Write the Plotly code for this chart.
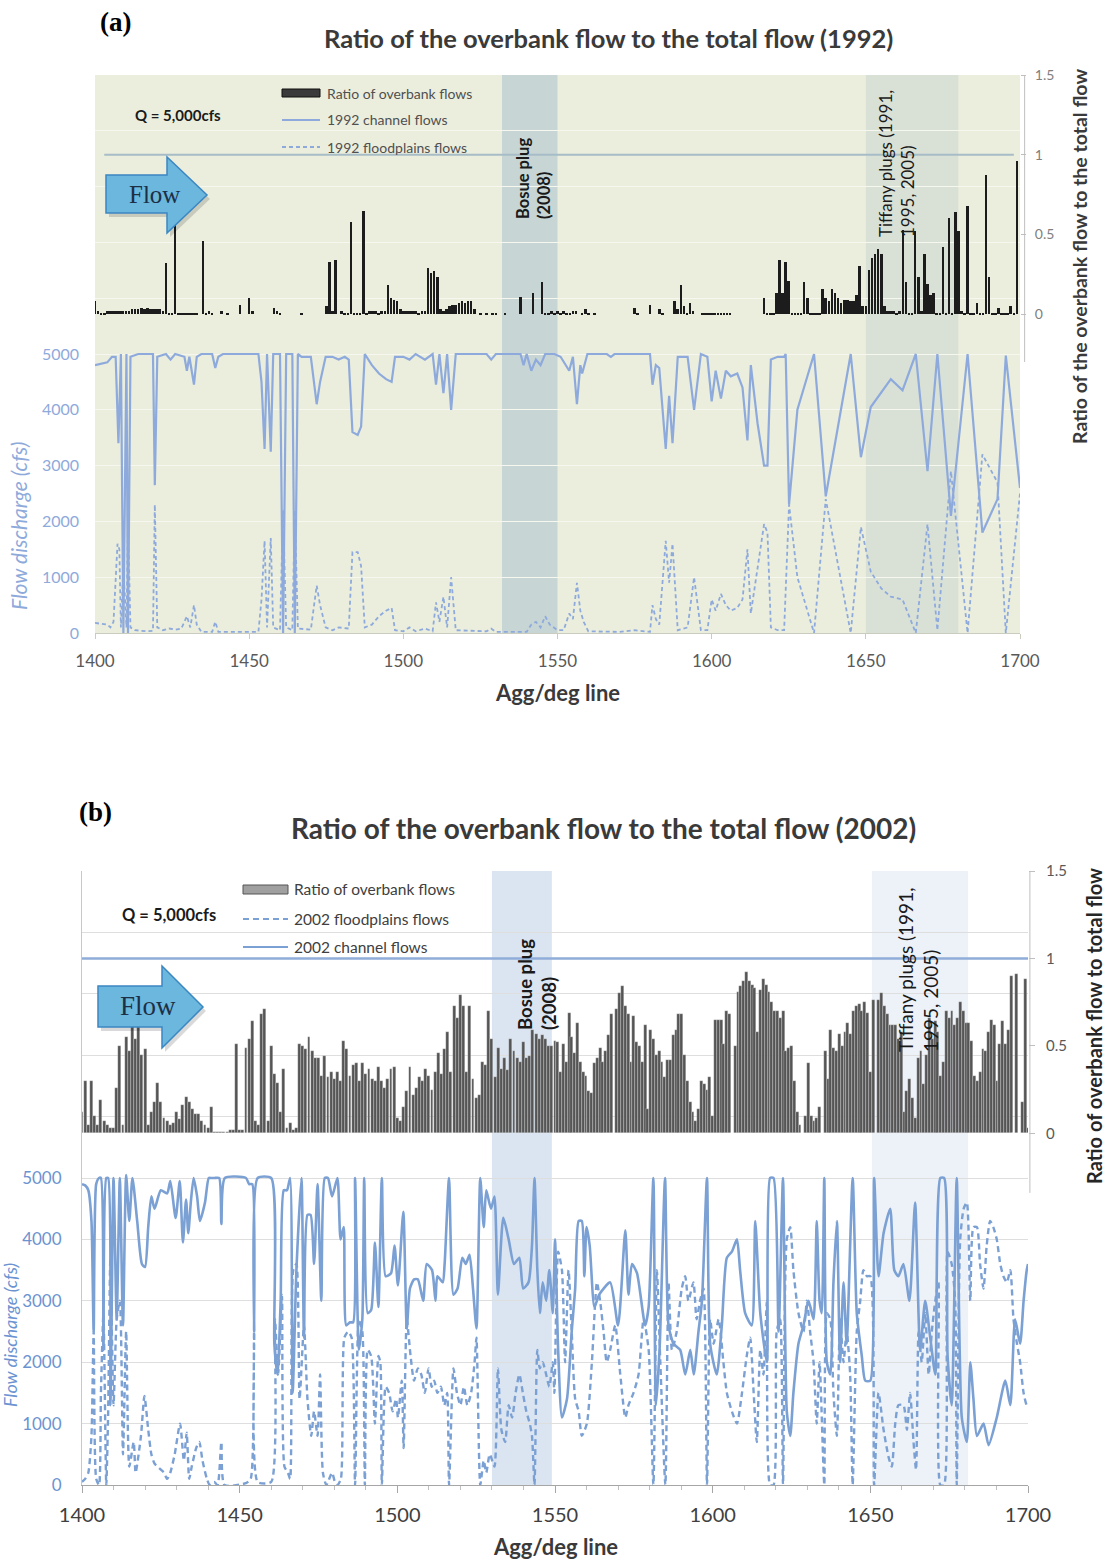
import numpy as np
import plotly.graph_objects as go

W, H = 1109, 1562

# ---------------- 1992 data (panel a) ----------------
STATIONS_1992 = list(range(1400, 1701))
RATIO_1992 = [
    0.08, 0.02, 0.01, 0.01, 0.02, 0.02, 0.02, 0.02, 0.02, 0.02,
    0.02, 0.02, 0.03, 0.03, 0.03, 0.04, 0.03, 0.04, 0.03, 0.03,
    0.03, 0.03, 0.02, 0.32, 0.01, 0.01, 0.66, 0.01, 0.01, 0.01,
    0.01, 0.01, 0.01, 0.01, 0.00, 0.46, 0.01, 0.02, 0.01, 0.00,
    0.00, 0.02, 0.00, 0.01, 0.00, 0.00, 0.00, 0.06, 0.00, 0.00,
    0.10, 0.02, 0.00, 0.00, 0.00, 0.00, 0.00, 0.00, 0.04, 0.02,
    0.01, 0.00, 0.00, 0.00, 0.00, 0.00, 0.00, 0.01, 0.00, 0.00,
    0.00, 0.00, 0.00, 0.00, 0.00, 0.05, 0.33, 0.02, 0.34, 0.00,
    0.02, 0.01, 0.01, 0.58, 0.01, 0.01, 0.01, 0.65, 0.01, 0.02,
    0.02, 0.02, 0.01, 0.02, 0.02, 0.18, 0.10, 0.09, 0.08, 0.03,
    0.02, 0.02, 0.02, 0.02, 0.02, 0.01, 0.02, 0.02, 0.29, 0.26,
    0.27, 0.23, 0.03, 0.02, 0.03, 0.05, 0.06, 0.06, 0.07, 0.08,
    0.07, 0.08, 0.08, 0.03, 0.00, 0.01, 0.00, 0.01, 0.00, 0.01,
    0.01, 0.00, 0.00, 0.01, 0.00, 0.00, 0.00, 0.00, 0.11, 0.00,
    0.00, 0.00, 0.13, 0.00, 0.00, 0.20, 0.01, 0.01, 0.02, 0.01,
    0.02, 0.01, 0.02, 0.01, 0.01, 0.02, 0.02, 0.00, 0.01, 0.03,
    0.01, 0.00, 0.01, 0.00, 0.00, 0.00, 0.00, 0.00, 0.00, 0.00,
    0.00, 0.00, 0.00, 0.00, 0.00, 0.04, 0.01, 0.00, 0.00, 0.00,
    0.06, 0.00, 0.00, 0.03, 0.01, 0.00, 0.00, 0.00, 0.08, 0.03,
    0.18, 0.05, 0.01, 0.07, 0.02, 0.00, 0.00, 0.01, 0.01, 0.01,
    0.01, 0.01, 0.01, 0.01, 0.01, 0.01, 0.01, 0.00, 0.00, 0.00,
    0.00, 0.00, 0.00, 0.00, 0.00, 0.00, 0.00, 0.10, 0.01, 0.01,
    0.01, 0.13, 0.34, 0.13, 0.33, 0.21, 0.01, 0.01, 0.01, 0.01,
    0.20, 0.10, 0.01, 0.01, 0.01, 0.01, 0.16, 0.10, 0.08, 0.16,
    0.13, 0.10, 0.07, 0.09, 0.09, 0.08, 0.08, 0.12, 0.30, 0.05,
    0.05, 0.28, 0.35, 0.375, 0.41, 0.375, 0.05, 0.02, 0.02, 0.02,
    0.01, 0.02, 0.53, 0.20, 0.01, 0.01, 0.52, 0.23, 0.02, 0.375,
    0.19, 0.12, 0.135, 0.01, 0.01, 0.42, 0.01, 0.60, 0.01, 0.64,
    0.52, 0.02, 0.01, 0.68, 0.01, 0.01, 0.07, 0.01, 0.01, 0.875,
    0.23, 0.01, 0.01, 0.04, 0.01, 0.01, 0.01, 0.05, 0.01, 0.96,
    0.00,
]

# (station, discharge in cfs)
CHANNEL_1992 = [
    (1400, 4800), (1402, 4820), (1404, 4850), (1405.5, 4950), (1406.7, 4950), (1407.6, 3400),
    (1408.4, 5000), (1409.2, 0), (1410.2, 5000), (1410.7, 0), (1411.5, 4950), (1414, 5000),
    (1418.8, 5000), (1419.4, 2650), (1420.2, 4950), (1423, 5000), (1424.5, 4900), (1426, 5000),
    (1429, 4950), (1429.8, 4700), (1430.6, 4950), (1431.5, 4650), (1432.1, 4450), (1433, 4950),
    (1434.5, 5000), (1438, 5000), (1439, 4750), (1440, 4950), (1441.5, 5000), (1453, 5000),
    (1454, 4500), (1455, 3300), (1455.8, 5000), (1457, 3250), (1457.8, 5000), (1460, 5000),
    (1461, 0), (1462, 5000), (1464, 5000), (1464.8, 0), (1465.8, 5000), (1467, 4950),
    (1470, 4950), (1471.9, 4100), (1473, 4500), (1474.8, 4950), (1477, 4950), (1479, 4900),
    (1481, 4950), (1482.3, 4900), (1483.5, 3600), (1485.2, 3550), (1486.3, 3700), (1487.5, 5000),
    (1489.8, 4800), (1492.1, 4650), (1494.4, 4550), (1496.2, 4500), (1497.3, 4950), (1500, 4950),
    (1502, 4900), (1504, 5000), (1507, 4900), (1509.5, 5000), (1510.6, 4450), (1511.7, 5000),
    (1513, 4300), (1514.2, 5000), (1515.5, 4000), (1517, 5000), (1527, 5000), (1528.5, 4900),
    (1530, 5000), (1538, 5000), (1539, 4800), (1540, 5000), (1541.5, 4700), (1543, 4900),
    (1544.5, 4800), (1546, 5000), (1549, 5000), (1551, 4950), (1553.8, 4700), (1555, 4950),
    (1556.3, 4100), (1557.4, 4800), (1558, 4650), (1559.7, 5000), (1566, 5000), (1567.3, 4950),
    (1568.5, 5000), (1580, 5000), (1580.8, 4450), (1581.9, 4800), (1583, 4750), (1585.1, 3300),
    (1586.2, 4250), (1587.3, 3400), (1589, 4950), (1592.2, 4950), (1594.3, 4000), (1596.5, 5000),
    (1598.6, 4950), (1600, 4150), (1601.3, 4700), (1603, 4200), (1604.6, 4700), (1606.2, 4600),
    (1608.3, 4650), (1610, 4400), (1611.6, 3450), (1612.7, 4800), (1614.9, 3750), (1617, 3000),
    (1618.1, 3000), (1619.2, 4900), (1621.4, 4950), (1623.5, 4950), (1624, 5000), (1625.1, 2300),
    (1627.8, 4000), (1633.2, 5000), (1637, 2450), (1645.1, 5000), (1648.4, 3150), (1651.6, 4050),
    (1658.1, 4550), (1661.9, 4350), (1666.2, 5000), (1670, 2900), (1673.2, 5000), (1677.6, 2100),
    (1683, 5000), (1687.8, 1800), (1692.7, 2400), (1695.4, 4970), (1700, 2600),
]

FLOOD_1992 = [
    (1400, 180), (1402, 170), (1404, 150), (1405, 100), (1406, 200), (1407.3, 1600),
    (1407.9, 1500), (1408.4, 100), (1409.2, 1200), (1410.2, 100), (1410.7, 2000), (1411.5, 100),
    (1413, 50), (1417, 30), (1418.8, 40), (1419.4, 2300), (1420.2, 100), (1422, 50),
    (1424, 80), (1426, 60), (1428, 80), (1429.8, 300), (1430.9, 100), (1432.1, 500),
    (1433, 150), (1434.5, 20), (1438, 20), (1439, 200), (1440, 20), (1453, 20),
    (1454, 600), (1455, 1650), (1455.8, 100), (1457, 1700), (1457.8, 100), (1460, 50),
    (1461, 2200), (1462, 100), (1464, 50), (1464.8, 2200), (1465.8, 80), (1470, 60),
    (1471.9, 850), (1473, 500), (1474.8, 100), (1477, 50), (1479, 100), (1482.3, 80),
    (1483.5, 1450), (1485.2, 1450), (1486.3, 1200), (1487.5, 100), (1489.8, 150), (1492.1, 300),
    (1494.4, 400), (1496.2, 450), (1497.3, 50), (1500, 30), (1502, 100), (1504, 30),
    (1507, 80), (1509.5, 30), (1510.6, 550), (1511.7, 200), (1513, 650), (1514.2, 100),
    (1515.5, 1000), (1517, 50), (1527, 30), (1528.5, 80), (1530, 20), (1540, 20),
    (1541.5, 150), (1543, 200), (1544.5, 100), (1546, 300), (1547.5, 150), (1550, 50),
    (1552, 50), (1553.8, 350), (1555, 250), (1556.3, 900), (1557.4, 400), (1558.5, 200),
    (1560, 30), (1570, 20), (1575, 50), (1580, 20), (1580.8, 500), (1581.9, 250),
    (1583, 150), (1585.1, 1650), (1586.2, 900), (1587.3, 1600), (1589, 50), (1592.2, 100),
    (1594.3, 1000), (1596.5, 50), (1598.6, 50), (1600, 600), (1601.3, 400), (1603, 700),
    (1604.6, 500), (1606.2, 400), (1608.3, 450), (1610, 600), (1611.6, 1500), (1612.7, 350),
    (1614.9, 1200), (1617, 1950), (1618.1, 1800), (1619.2, 100), (1621.4, 50), (1623.5, 50),
    (1625.1, 2300), (1627.8, 1000), (1633.2, 0), (1637, 2400), (1645.1, 0), (1648.4, 1900),
    (1651.6, 1100), (1655, 800), (1658.1, 650), (1661.9, 600), (1666.2, 0), (1670, 1950),
    (1673.2, 50), (1677.6, 2900), (1683, 0), (1687.8, 3200), (1692.7, 2700), (1695.4, 0),
    (1700, 2500),
]

# ---------------- 2002 data (panel b) ----------------
# overbank ratio, stations 1400-1549 (one bar per station)
RATIO_2002_UP = [
    0.12, 0.30, 0.05, 0.30, 0.10, 0.05, 0.19, 0.07, 0.05, 0.03,
    0.03, 0.26, 0.50, 0.05, 0.55, 0.47, 0.69, 0.54, 0.61, 0.45,
    0.48, 0.05, 0.12, 0.18, 0.29, 0.18, 0.09, 0.07, 0.05, 0.06,
    0.12, 0.08, 0.16, 0.21, 0.18, 0.14, 0.11, 0.11, 0.07, 0.05,
    0.03, 0.15, 0.01, 0.01, 0.01, 0.01, 0.01, 0.02, 0.02, 0.51,
    0.02, 0.02, 0.49, 0.54, 0.64, 0.07, 0.05, 0.68, 0.71, 0.07,
    0.50, 0.34, 0.29, 0.12, 0.37, 0.03, 0.06, 0.02, 0.03, 0.51,
    0.50, 0.48, 0.55, 0.47, 0.43, 0.43, 0.33, 0.44, 0.32, 0.35,
    0.31, 0.35, 0.30, 0.53, 0.48, 0.33, 0.39, 0.40, 0.30, 0.40,
    0.34, 0.37, 0.31, 0.30, 0.38, 0.30, 0.26, 0.31, 0.37, 0.38,
    0.09, 0.07, 0.15, 0.24, 0.38, 0.22, 0.26, 0.32, 0.30, 0.37,
    0.33, 0.25, 0.35, 0.46, 0.34, 0.48, 0.58, 0.35, 0.73, 0.66,
    0.79, 0.73, 0.35, 0.73, 0.31, 0.20, 0.22, 0.41, 0.39, 0.70,
    0.54, 0.32, 0.49, 0.37, 0.43, 0.36, 0.54, 0.47, 0.43, 0.41,
    0.52, 0.43, 0.44, 0.59, 0.57, 0.54, 0.56, 0.54, 0.50, 0.50,
]
# overbank ratio, stations 1550-1700 (denser bars)
RATIO_2002_DOWN = [
    0.53, 0.52, 0.35, 0.51, 0.41, 0.69, 0.55, 0.46, 0.63, 0.41,
    0.35, 0.33, 0.24, 0.23, 0.40, 0.43, 0.49, 0.41, 0.47, 0.56,
    0.68, 0.00, 0.71, 0.80, 0.84, 0.73, 0.68, 0.41, 0.67, 0.52,
    0.50, 0.41, 0.62, 0.14, 0.59, 0.54, 0.45, 0.47, 0.41, 0.32,
    0.42, 0.42, 0.56, 0.59, 0.68, 0.68, 0.45, 0.30, 0.18, 0.12,
    0.07, 0.14, 0.30, 0.28, 0.25, 0.32, 0.10, 0.65, 0.65, 0.65,
    0.51, 0.70, 0.68, 0.00, 0.50, 0.81, 0.84, 0.87, 0.92, 0.87,
    0.85, 0.83, 0.58, 0.82, 0.88, 0.85, 0.81, 0.75, 0.70, 0.70,
    0.66, 0.70, 0.47, 0.49, 0.50, 0.30, 0.12, 0.05, 0.00, 0.10,
    0.40, 0.10, 0.07, 0.09, 0.15, 0.00, 0.47, 0.31, 0.59, 0.49,
    0.47, 0.57, 0.50, 0.58, 0.63, 0.57, 0.70, 0.73, 0.74, 0.70,
    0.75, 0.69, 0.35, 0.76, 0.00, 0.76, 0.80, 0.73, 0.68, 0.62,
    0.62, 0.62, 0.54, 0.58, 0.12, 0.24, 0.31, 0.20, 0.09, 0.43,
    0.47, 0.28, 0.45, 0.66, 0.54, 0.64, 0.58, 0.33, 0.41, 0.70,
    0.66, 0.70, 0.62, 0.66, 0.75, 0.70, 0.63, 0.63, 0.53, 0.33,
    0.30, 0.35, 0.48, 0.47, 0.58, 0.65, 0.62, 0.30, 0.51, 0.64,
    0.51, 0.59, 0.90, 0.00, 0.91, 0.00, 0.18, 0.88, 0.03,
]

CHANNEL_2002 = [
    (1400, 4900), (1401, 4880), (1402, 4800), (1403, 4300), (1403.7, 2500), (1404.5, 4900),
    (1405.4, 5000), (1406, 5000), (1406.8, 2200), (1407.7, 5000), (1408.3, 5000), (1409, 1300),
    (1410, 5000), (1411, 2700), (1412, 5000), (1413, 2600), (1414, 5050), (1415, 4300),
    (1416, 5000), (1417.5, 4300), (1419, 3600), (1420, 3550), (1421, 4200), (1422, 4700),
    (1423, 4500), (1425, 4800), (1427, 4750), (1428, 4950), (1429.7, 4350), (1431, 4950),
    (1432, 3950), (1433, 4650), (1433.7, 4100), (1434.5, 4600), (1435.4, 5000), (1436.5, 4700),
    (1437.4, 4300), (1439, 4600), (1440.2, 5000), (1441, 5000), (1442, 5000), (1443.5, 5000),
    (1444.2, 4250), (1445.3, 5000), (1452, 5000), (1453, 4900), (1454, 4900), (1454.6, 2500),
    (1455.7, 5000), (1460, 5000), (1461, 2300), (1462, 1800), (1463, 3000), (1464, 4800),
    (1465, 4800), (1466, 5000), (1466.8, 1500), (1468, 3500), (1469.6, 5000), (1470.4, 2400),
    (1471.5, 4400), (1472.5, 4400), (1473.6, 3600), (1474.7, 4900), (1475.9, 3000), (1477, 5000),
    (1478, 5000), (1479.3, 4700), (1481, 5000), (1482, 4000), (1483, 4200), (1483.8, 2600),
    (1485, 2650), (1486, 2650), (1486.6, 5000), (1487.8, 2200), (1488.9, 2700), (1489.5, 5000),
    (1490.6, 2800), (1491.7, 2850), (1492.9, 3950), (1494, 2900), (1495.1, 5000), (1496.3, 3400),
    (1498, 3450), (1499.1, 3900), (1500.2, 3250), (1501.9, 4450), (1503, 2550), (1504, 3200),
    (1505.3, 3350), (1506.5, 3350), (1508.2, 3000), (1509.3, 3600), (1511, 3500), (1512.1, 3000),
    (1512.7, 3400), (1514.4, 3300), (1515, 3600), (1516.4, 5000), (1517.8, 3100), (1519.1, 3200),
    (1520.6, 3700), (1521.7, 3600), (1522.9, 3750), (1524, 3200), (1525.1, 2550), (1526.3, 5000),
    (1527.4, 4200), (1528.2, 4800), (1529.7, 4500), (1530.8, 4700), (1531.9, 3100), (1533.6, 4350),
    (1535.3, 4000), (1537, 3600), (1538.7, 3700), (1539.9, 3200), (1541.6, 3300), (1542.7, 3900),
    (1543.5, 5000), (1544.4, 3500), (1545.2, 2800), (1546.1, 3300), (1547.2, 3000), (1548.2, 3500),
    (1549.3, 2800), (1550, 4000), (1551, 2200), (1552.2, 1100), (1553.8, 1400), (1555.3, 2500),
    (1556.4, 3200), (1557.5, 4300), (1558.5, 4300), (1559.3, 3400), (1560, 4200), (1561, 3900),
    (1562.5, 2900), (1564, 3100), (1567.5, 3300), (1570, 2600), (1572.3, 4150), (1573.3, 3100),
    (1574.4, 3600), (1576, 3450), (1578.6, 2600), (1579.7, 2900), (1581.2, 5000), (1582, 1300),
    (1583.2, 2250), (1584.9, 5000), (1586, 2600), (1587.6, 2300), (1589.7, 2200), (1591.3, 1800),
    (1592.9, 2200), (1594, 1800), (1595.5, 2500), (1596.6, 3000), (1598.2, 5000), (1599.2, 2300),
    (1601.3, 1800), (1602.9, 2600), (1604.5, 3700), (1606.1, 3800), (1607.7, 4000), (1608.7, 3500),
    (1610.3, 2800), (1612.4, 2600), (1613.5, 4300), (1615.1, 2800), (1617.2, 2000), (1618.2, 5000),
    (1619.3, 5000), (1620.9, 2500), (1622.3, 5000), (1623.5, 1200), (1624.6, 800), (1625.6, 1500),
    (1627.2, 2300), (1628.8, 2600), (1630.4, 3000), (1632, 2700), (1633, 4300), (1633.9, 3000),
    (1634.6, 2800), (1635.4, 5000), (1636.2, 2000), (1637.3, 1800), (1638.3, 3300), (1639.4, 4300),
    (1640.4, 2000), (1641.5, 3300), (1642.5, 2300), (1644.4, 5000), (1645.7, 2800), (1647.3, 2100),
    (1648.4, 1700), (1650, 1700), (1651.2, 5000), (1652.6, 3400), (1654.2, 4100), (1656.3, 4500),
    (1657.6, 3500), (1658.9, 3400), (1660.5, 3600), (1662.4, 3000), (1664.2, 4600), (1665.8, 2200),
    (1667.4, 3000), (1669, 2400), (1670.6, 1800), (1672.2, 5000), (1673.4, 5000), (1674.5, 2100),
    (1675.8, 1300), (1677.4, 5000), (1679, 1100), (1680.6, 700), (1681.7, 2000), (1682.7, 1400),
    (1683.8, 800), (1685.9, 1000), (1687.5, 650), (1690.1, 1100), (1692.8, 1700), (1694.4, 1300),
    (1695.9, 2700), (1697.5, 2300), (1698.6, 3000), (1699.6, 3500), (1700, 3600),
]

FLOOD_2002 = [
    (1400, 50), (1401, 100), (1402, 200), (1403, 800), (1403.7, 2500), (1404.5, 100),
    (1405.4, 0), (1406, 1500), (1406.8, 2800), (1407.7, 0), (1408.3, 1200), (1409, 3700),
    (1410, 1300), (1411, 2700), (1412, 3000), (1413, 500), (1414, 2500), (1415, 300),
    (1416.4, 700), (1417, 200), (1418.7, 800), (1419.8, 1450), (1421, 900), (1422, 500),
    (1423, 350), (1425, 250), (1426, 200), (1427, 100), (1428, 200), (1429.4, 500),
    (1431.1, 1000), (1432.3, 400), (1433.2, 850), (1434, 100), (1434.8, 300), (1436.2, 600),
    (1437.2, 700), (1438.2, 400), (1439.6, 100), (1440.5, 0), (1441.9, 50), (1443, 0),
    (1444.2, 700), (1445.2, 0), (1452, 30), (1453.5, 100), (1454.6, 2500), (1455.7, 50),
    (1460, 50), (1461.2, 2700), (1462.2, 1800), (1463.4, 3100), (1464.2, 300), (1465.3, 200),
    (1466, 100), (1467, 3500), (1468, 3600), (1469, 1400), (1470.4, 2600), (1471.5, 1400),
    (1472.7, 800), (1473.6, 1200), (1474.7, 800), (1475.5, 1800), (1476.4, 200), (1477.5, 0),
    (1479.3, 200), (1480.2, 50), (1481, 0), (1482.1, 100), (1483.2, 2400), (1484.4, 2500),
    (1485.5, 2400), (1486.6, 0), (1487.8, 2700), (1488.9, 2500), (1489.7, 0), (1490.6, 2200),
    (1491.7, 2100), (1492.9, 1000), (1494, 2100), (1494.6, 2000), (1495.1, 0), (1496.3, 1600),
    (1497.4, 1500), (1498.5, 1200), (1499.6, 1400), (1500.2, 1100), (1501.4, 1700), (1502, 600),
    (1503, 2700), (1504.2, 2100), (1505.3, 1700), (1506.5, 1900), (1507.6, 1800), (1508.7, 1500),
    (1509.9, 1900), (1510.9, 1600), (1511.7, 1700), (1512.7, 1500), (1513.8, 1600), (1514.9, 1300),
    (1515.8, 1500), (1516.4, 0), (1517.8, 1900), (1518.9, 1500), (1520, 1300), (1521.1, 1600),
    (1522.2, 1300), (1523.4, 1500), (1524.5, 2000), (1525.1, 2400), (1526.3, 0), (1527.4, 400),
    (1528.2, 200), (1529.3, 500), (1530.8, 300), (1531.9, 1900), (1533, 900), (1534.2, 700),
    (1535.3, 1300), (1536.4, 1100), (1537.5, 1500), (1538.7, 1800), (1539.8, 1500), (1540.9, 1200),
    (1542, 1000), (1542.7, 800), (1543.5, 0), (1544.4, 2200), (1545.2, 1900), (1546.1, 2000),
    (1547.2, 1800), (1548.2, 1600), (1549.3, 2000), (1549.8, 1500), (1551, 3800), (1552.2, 3500),
    (1553.2, 2000), (1554.3, 3500), (1555.3, 2500), (1556.4, 1400), (1557.5, 1200), (1558.5, 800),
    (1560.1, 1000), (1561.7, 2000), (1563.3, 3300), (1564.3, 3000), (1565.4, 2500), (1566.4, 2000),
    (1567.5, 2200), (1569.1, 2600), (1570.7, 1800), (1572.3, 1100), (1573.3, 1300), (1574.9, 1500),
    (1576.5, 1800), (1578.1, 2700), (1579.7, 2200), (1581.2, 0), (1582.3, 3500), (1583.4, 2000),
    (1585, 0), (1586, 3300), (1587.1, 2200), (1588.6, 2500), (1590.2, 3200), (1591.3, 3400),
    (1592.3, 3000), (1593.9, 3300), (1594.9, 2700), (1596, 3000), (1597.1, 3200), (1598.2, 0),
    (1599.2, 2700), (1600.3, 2300), (1601.9, 2700), (1603.4, 2000), (1604.5, 1500), (1606.1, 1200),
    (1607.7, 1000), (1609.3, 1500), (1610.8, 2100), (1611.9, 2400), (1613, 1500), (1614, 700),
    (1615.1, 2200), (1616.1, 1800), (1617.2, 3000), (1618.2, 0), (1619.3, 0), (1620.3, 2500),
    (1621.4, 2700), (1622.3, 0), (1623.5, 4000), (1624.6, 4200), (1625.6, 3500), (1627.2, 2800),
    (1628.8, 2500), (1629.9, 3000), (1630.9, 2500), (1632, 2000), (1633, 1000), (1633.9, 2000),
    (1635.4, 0), (1636.2, 2800), (1637.3, 2700), (1638.3, 1500), (1639.4, 800), (1640.4, 2700),
    (1641.5, 2000), (1642.5, 2500), (1643.6, 1800), (1644.4, 0), (1645.7, 2500), (1646.8, 3000),
    (1647.8, 3500), (1648.9, 3400), (1650, 3400), (1651.2, 0), (1652.6, 1500), (1654.2, 900),
    (1655.8, 450), (1656.8, 300), (1657.9, 1000), (1658.9, 1300), (1660.5, 1300), (1661.6, 900),
    (1662.6, 1500), (1663.7, 700), (1664.5, 250), (1665.3, 2500), (1666.3, 2000), (1667.4, 2800),
    (1668.5, 1800), (1669.5, 2500), (1670.6, 3000), (1671.6, 3300), (1672.2, 0), (1673.4, 0),
    (1674.5, 3800), (1675.8, 3600), (1676.9, 3000), (1677.4, 0), (1678.5, 4000), (1679.6, 4500),
    (1680.6, 4600), (1681.7, 3000), (1682.7, 4200), (1683.8, 4200), (1684.8, 3600), (1685.9, 3200),
    (1686.9, 3900), (1688, 4300), (1689, 4200), (1690.1, 4000), (1691.2, 3600), (1692.2, 3400),
    (1693.3, 3300), (1694.4, 3500), (1695.4, 2700), (1696.5, 2300), (1697.5, 2000), (1698.6, 1500),
    (1699.6, 1300), (1700, 1300),
]

X_TICKS = [1400, 1450, 1500, 1550, 1600, 1650, 1700]
FLOW_TICKS = [0, 1000, 2000, 3000, 4000, 5000]
RATIO_TICKS = [0, 0.5, 1, 1.5]
BOSUE = {"1992": (1532, 1550), "2002": (1530, 1549)}
TIFFANY = {"1992": (1650, 1680), "2002": (1650.5, 1681)}

# ---------------- helpers ----------------
SANS = "Lato, 'Open Sans', sans-serif"
SERIF = "'Liberation Serif', 'DejaVu Serif', serif"
LINE_BLUE_A = "#8eaadc"
LINE_BLUE_B = "#7ba0d4"


def px(x):
    return x / W


def py(y):
    return 1 - y / H


def unzip(pairs):
    return [p[0] for p in pairs], [p[1] for p in pairs]


def path(points):
    pts = [f"{px(x):.5f},{py(y):.5f}" for x, y in points]
    return "M " + " L ".join(pts) + " Z"


fig = go.Figure()

# ---------------- panel a traces ----------------
fig.add_trace(go.Bar(x=STATIONS_1992, y=RATIO_1992, width=0.85,
                     marker=dict(color="#1c1c1c", line=dict(width=0)),
                     xaxis="x", yaxis="y2"))
fig.add_trace(go.Scatter(x=[1403, 1698], y=[1, 1], mode="lines",
                         line=dict(color="#a7bcc6", width=2), xaxis="x", yaxis="y2"))
cx, cy = unzip(CHANNEL_1992)
fx, fy = unzip(FLOOD_1992)
fig.add_trace(go.Scatter(x=fx, y=fy, mode="lines",
                         line=dict(color=LINE_BLUE_A, width=1.8, dash="4px,3px"),
                         xaxis="x", yaxis="y"))
fig.add_trace(go.Scatter(x=cx, y=cy, mode="lines",
                         line=dict(color=LINE_BLUE_A, width=2.2),
                         xaxis="x", yaxis="y"))

# ---------------- panel b traces ----------------
bx = np.concatenate([np.arange(1400, 1550), np.linspace(1550, 1700, len(RATIO_2002_DOWN))])
by = RATIO_2002_UP + RATIO_2002_DOWN
fig.add_trace(go.Bar(x=bx, y=by, width=0.92,
                     marker=dict(color="#555555", line=dict(width=0.5, color="rgba(255,255,255,0.5)")),
                     xaxis="x2", yaxis="y4"))
fig.add_trace(go.Scatter(x=[1400, 1700], y=[1, 1], mode="lines",
                         line=dict(color="#8fadd8", width=2.5), xaxis="x2", yaxis="y4"))
cx, cy = unzip(CHANNEL_2002)
fx, fy = unzip(FLOOD_2002)
fig.add_trace(go.Scatter(x=fx, y=fy, mode="lines",
                         line=dict(color=LINE_BLUE_B, width=2.4, dash="6px,4px",
                                   shape="spline", smoothing=0.6),
                         xaxis="x2", yaxis="y3"))
fig.add_trace(go.Scatter(x=cx, y=cy, mode="lines",
                         line=dict(color=LINE_BLUE_B, width=2.6, shape="spline", smoothing=0.6),
                         xaxis="x2", yaxis="y3"))

# ---------------- axes ----------------
A_X = [px(95), px(1020)]
A_Y = [py(633), py(75)]
B_X = [px(82), px(1028)]
B_Y = [py(1485), py(871)]

flow_vals = list(range(0, 10001, 1000))
flow_text = [str(v) if v in FLOW_TICKS else "" for v in flow_vals]

fig.update_layout(
    width=W, height=H, margin=dict(l=0, r=0, t=0, b=0, pad=0, autoexpand=False),
    paper_bgcolor="white", plot_bgcolor="rgba(0,0,0,0)",
    showlegend=False, bargap=0,
    font=dict(family=SANS),
    xaxis=dict(domain=A_X, anchor="y", range=[1400, 1700], tickvals=X_TICKS,
               showgrid=False, zeroline=False, showline=True, linecolor="#c9ccbf",
               ticks="outside", ticklen=5, tickcolor="#c9ccbf", automargin=False,
               tickfont=dict(size=17, color="#595959"), ticklabelstandoff=8),
    yaxis=dict(domain=A_Y, anchor="x", range=[0, 10000], tickvals=flow_vals, ticktext=flow_text,
               showgrid=True, gridcolor="#f6f7ef", gridwidth=1, zeroline=False, showline=False,
               ticks="", tickfont=dict(size=16, color="#8eaadb"), ticklabelstandoff=15,
               automargin=False),
    yaxis2=dict(overlaying="y", anchor="x", side="right", range=[-2, 1.5],
                tickvals=RATIO_TICKS, ticktext=["0", "0.5", "1", "1.5"],
                showgrid=False, zeroline=False, showline=False,
                ticks="outside", ticklen=5, tickcolor="#bfbfbf", automargin=False,
                tickfont=dict(size=14, color="#808080"), ticklabelstandoff=6),
    xaxis2=dict(domain=B_X, anchor="y3", range=[1400, 1700], tickvals=X_TICKS,
                showgrid=False, zeroline=False, showline=True, linecolor="#a6a6a6",
                ticks="outside", ticklen=7, tickcolor="#a6a6a6", automargin=False,
                minor=dict(dtick=10, ticks="outside", ticklen=4, tickcolor="#bfbfbf", showgrid=False),
                tickfont=dict(size=20, color="#404040"), ticklabelstandoff=5),
    yaxis3=dict(domain=B_Y, anchor="x2", range=[0, 10000], tickvals=flow_vals, ticktext=flow_text,
                showgrid=True, gridcolor="#dedede", gridwidth=1, zeroline=False,
                showline=True, linecolor="#c8c8c8", automargin=False,
                ticks="", tickfont=dict(size=17, color="#6b93d1"), ticklabelstandoff=16),
    yaxis4=dict(overlaying="y3", anchor="x2", side="right", range=[-2.01, 1.5],
                tickvals=RATIO_TICKS, ticktext=["0", "0.5", "1", "1.5"],
                showgrid=False, zeroline=False, showline=False, automargin=False,
                ticks="outside", ticklen=6, tickcolor="#bfbfbf",
                tickfont=dict(size=15, color="#595959"), ticklabelstandoff=8),
)

# ---------------- shapes ----------------
shapes = [
    # panel a background and plug bands
    dict(type="rect", xref="x domain", yref="y domain", x0=0, x1=1, y0=0, y1=1,
         fillcolor="#ebeedd", line=dict(width=0), layer="below"),
    dict(type="rect", xref="x", yref="y domain", x0=BOSUE["1992"][0], x1=BOSUE["1992"][1],
         y0=0, y1=1, fillcolor="#c7d5d5", line=dict(width=0), layer="below"),
    dict(type="rect", xref="x", yref="y domain", x0=TIFFANY["1992"][0], x1=TIFFANY["1992"][1],
         y0=0, y1=1, fillcolor="#d9e1d7", line=dict(width=0), layer="below"),
    # panel b plug bands
    dict(type="rect", xref="x2", yref="y3 domain", x0=BOSUE["2002"][0], x1=BOSUE["2002"][1],
         y0=0, y1=1, fillcolor="#dbe5f1", line=dict(width=0), layer="below"),
    dict(type="rect", xref="x2", yref="y3 domain", x0=TIFFANY["2002"][0], x1=TIFFANY["2002"][1],
         y0=0, y1=1, fillcolor="#edf2f8", line=dict(width=0), layer="below"),
    # right (ratio) axis lines
    dict(type="line", xref="x domain", yref="y2", x0=1.005, x1=1.005, y0=-0.3, y1=1.5,
         line=dict(color="#bfbfbf", width=1)),
    dict(type="line", xref="x2 domain", yref="y4", x0=1.002, x1=1.002, y0=-0.34, y1=1.5,
         line=dict(color="#bfbfbf", width=1)),
]

# flow arrows (shadow + body)
arrow_a = [(106, 175), (167, 175), (167, 157), (207, 195), (167, 233), (167, 213), (106, 213)]
arrow_b = [(98, 986), (162, 986), (162, 966), (203, 1007), (162, 1048), (162, 1027), (98, 1027)]
for pts in (arrow_a, arrow_b):
    shapes.append(dict(type="path", xref="paper", yref="paper",
                       path=path([(x + 3, y + 4) for x, y in pts]),
                       fillcolor="rgba(0,0,0,0.15)", line=dict(width=0)))
    shapes.append(dict(type="path", xref="paper", yref="paper", path=path(pts),
                       fillcolor="#6bb7dd", line=dict(color="#3b87c2", width=1.5)))

# legend keys
shapes += [
    dict(type="rect", xref="paper", yref="paper", x0=px(282), x1=px(320), y0=py(97), y1=py(89),
         fillcolor="#3a3a3a", line=dict(color="#111111", width=1)),
    dict(type="line", xref="paper", yref="paper", x0=px(282), x1=px(320), y0=py(120), y1=py(120),
         line=dict(color=LINE_BLUE_A, width=1.8)),
    dict(type="line", xref="paper", yref="paper", x0=px(282), x1=px(320), y0=py(147), y1=py(147),
         line=dict(color=LINE_BLUE_A, width=1.8, dash="4px,3px")),
    dict(type="rect", xref="paper", yref="paper", x0=px(243), x1=px(288), y0=py(894), y1=py(885),
         fillcolor="#a0a0a0", line=dict(color="#555555", width=1)),
    dict(type="line", xref="paper", yref="paper", x0=px(243), x1=px(288), y0=py(919), y1=py(919),
         line=dict(color=LINE_BLUE_B, width=2, dash="6px,4px")),
    dict(type="line", xref="paper", yref="paper", x0=px(243), x1=px(288), y0=py(947), y1=py(947),
         line=dict(color=LINE_BLUE_B, width=2)),
]
fig.update_layout(shapes=shapes)

# ---------------- text ----------------
def note(x, y, text, size, color="#262626", bold=False, family=SANS, angle=0,
         xanchor="center", align="center", italic=False):
    t = f"<b>{text}</b>" if bold else text
    if italic:
        t = f"<i>{t}</i>"
    return dict(xref="paper", yref="paper", x=px(x), y=py(y), text=t, showarrow=False,
                textangle=angle, xanchor=xanchor, yanchor="middle", align=align,
                font=dict(family=family, size=size, color=color))


annotations = [
    note(115, 22, "(a)", 27, "#000000", bold=True, family=SERIF),
    note(608, 38, "Ratio of the overbank flow to the total flow (1992)", 25.5, "#3a3a3a", bold=True),
    note(557, 692, "Agg/deg line", 22, "#3a3a3a", bold=True),
    note(18, 526, "Flow discharge (cfs)", 21, "#8eaadb", angle=-90, italic=True),
    note(1079, 257, "Ratio of the overbank flow to the total flow", 19.5, "#3a3a3a", bold=True, angle=-90),
    note(133, 115, "Q = 5,000cfs", 15, "#1a1a1a", bold=True, xanchor="left"),
    note(325, 93, "Ratio of overbank flows", 14, "#505050", xanchor="left"),
    note(325, 120, "1992 channel flows", 14, "#505050", xanchor="left"),
    note(325, 147, "1992 floodplains flows", 14, "#505050", xanchor="left"),
    note(534, 179, "Bosue plug<br>(2008)", 16.5, "#1a1a1a", bold=True, angle=-90, align="left"),
    note(896, 164, "Tiffany plugs (1991,<br>1995, 2005)", 17, "#1a1a1a", angle=-90, align="left"),
    note(154, 194, "Flow", 25, "#1d2f45", family=SERIF),

    note(95, 812, "(b)", 27, "#000000", bold=True, family=SERIF),
    note(603, 828, "Ratio of the overbank flow to the total flow (2002)", 28, "#3a3a3a", bold=True),
    note(555, 1546, "Agg/deg line", 22, "#3a3a3a", bold=True),
    note(10, 1335, "Flow discharge (cfs)", 18, "#6b93d1", angle=-90, italic=True),
    note(1094, 1026, "Ratio of overbank flow to total flow", 20, "#262626", bold=True, angle=-90),
    note(120, 915, "Q = 5,000cfs", 16.5, "#1a1a1a", bold=True, xanchor="left"),
    note(292, 889, "Ratio of overbank flows", 15.5, "#404040", xanchor="left"),
    note(292, 919, "2002 floodplains flows", 15.5, "#404040", xanchor="left"),
    note(292, 947, "2002 channel flows", 15.5, "#404040", xanchor="left"),
    note(537, 985, "Bosue plug<br>(2008)", 18.5, "#1a1a1a", bold=True, angle=-90, align="left"),
    note(918, 970, "Tiffany plugs (1991,<br>1995, 2005)", 19, "#1a1a1a", angle=-90, align="left"),
    note(148, 1006, "Flow", 27, "#1d2f45", family=SERIF),
]
fig.update_layout(annotations=annotations)

fig.write_html("out.html")
